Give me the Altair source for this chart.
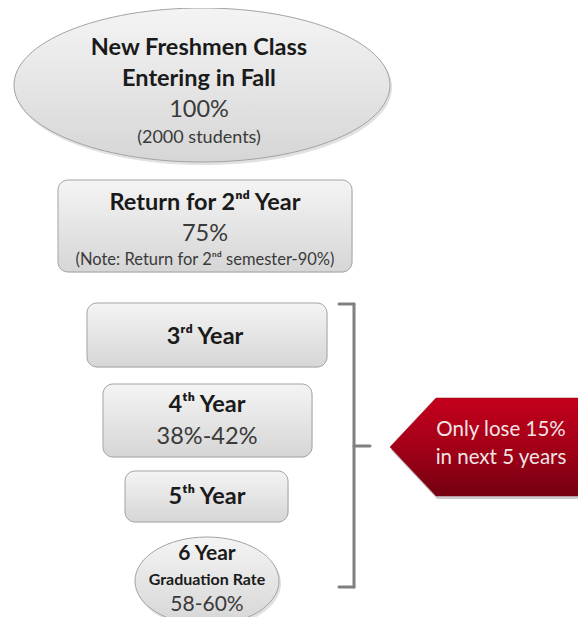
import altair as alt
import pandas as pd

# ---------------- data ----------------
# ellipses (centre, width, height in diagram units = pixels)
ell_names = ["Freshmen", "Graduation"]
ell_cx = [202, 207]
ell_cy = [85, 581]
ell_w = [376, 144]
ell_h = [154, 88]

# rounded boxes
box_names = ["2nd Year", "3rd Year", "4th Year", "5th Year"]
box_x1 = [58, 87, 103, 125]
box_x2 = [352, 327, 312, 288]
box_y1 = [180, 303, 384, 471]
box_y2 = [272, 367, 457, 522]

# bracket segments
br_x1 = [354, 339, 339, 354]
br_x2 = [354, 354, 354, 370]
br_y1 = [304, 304, 587, 446]
br_y2 = [587, 304, 587, 446]

# arrow (pentagon) centre and half-size
arrow_cx = [488]
arrow_cy = [447]
arrow_half = 100

# text
bold_labels = ["New Freshmen Class", "Entering in Fall", "Return for 2ⁿᵈ Year",
               "3ʳᵈ Year", "4ᵗʰ Year", "5ᵗʰ Year", "6 Year", "Graduation Rate"]
bold_x = [199, 199, 205, 205, 207, 207, 207, 207]
bold_y = [48, 79, 203, 337, 405, 497, 554, 580]
bold_size = [23.5, 23.5, 23.5, 23.5, 23.5, 23.5, 21, 16]

reg_labels = ["100%", "(2000 students)", "75%", "(Note: Return for 2ⁿᵈ semester-90%)",
              "38%-42%", "58-60%"]
reg_x = [199, 199, 205, 205, 207, 207]
reg_y = [110, 138, 234, 260, 437, 605]
reg_size = [23.5, 18, 23.5, 16.5, 23.5, 21]

arrow_labels = ["Only lose 15%", "in next 5 years"]
arrow_tx = [501, 501]
arrow_ty = [430, 458]

FONT = "Lato"

# ---------------- helpers ----------------
def ellipse_path(k):
    c = 0.5523
    return (f"M-1,0C-1,{-c*k:.4f},{-c},{-k:.4f},0,{-k:.4f}"
            f"C{c},{-k:.4f},1,{-c*k:.4f},1,0"
            f"C1,{c*k:.4f},{c},{k:.4f},0,{k:.4f}"
            f"C{-c},{k:.4f},-1,{c*k:.4f},-1,0Z")

xs = alt.Scale(domain=[8, 578])
ys = alt.Scale(domain=[8, 617], reverse=True)

gray_grad = alt.Gradient(
    gradient="linear", x1=0, x2=0, y1=0, y2=1,
    stops=[alt.GradientStop(color="#f4f4f4", offset=0),
           alt.GradientStop(color="#d6d6d6", offset=1)])
red_grad = alt.Gradient(
    gradient="linear", x1=0, x2=0, y1=0, y2=1,
    stops=[alt.GradientStop(color="#c4001c", offset=0),
           alt.GradientStop(color="#a30018", offset=0.5),
           alt.GradientStop(color="#740010", offset=1)])

ell_df = pd.DataFrame({
    "name": ell_names, "cx": ell_cx, "cy": ell_cy,
    "shape": [ellipse_path(h / w) for w, h in zip(ell_w, ell_h)],
    "size": [w * w for w in ell_w],
})
box_df = pd.DataFrame({"name": box_names, "x1": box_x1, "x2": box_x2,
                       "y1": box_y1, "y2": box_y2})
br_df = pd.DataFrame({"x1": br_x1, "x2": br_x2, "y1": br_y1, "y2": br_y2})

t = 0.49
tip = -0.98
corner = -0.52
arrow_path = f"M{tip},0L{corner},{-t}L1.05,{-t}L1.05,{t}L{corner},{t}Z"
arrow_df = pd.DataFrame({"cx": arrow_cx, "cy": arrow_cy,
                         "shape": [arrow_path], "size": [(2 * arrow_half) ** 2]})

bold_df = pd.DataFrame({"label": bold_labels, "x": bold_x, "y": bold_y, "size": bold_size})
reg_df = pd.DataFrame({"label": reg_labels, "x": reg_x, "y": reg_y, "size": reg_size})
arr_t_df = pd.DataFrame({"label": arrow_labels, "x": arrow_tx, "y": arrow_ty})

# ---------------- layers ----------------
def ell_layer(fill, stroke, dx=0, dy=0, opacity=1.0):
    return alt.Chart(ell_df).mark_point(
        filled=True, fill=fill, stroke=stroke, strokeWidth=1, opacity=opacity,
        xOffset=dx, yOffset=dy
    ).encode(
        x=alt.X("cx:Q", scale=xs, axis=None),
        y=alt.Y("cy:Q", scale=ys, axis=None),
        shape=alt.Shape("shape:N", scale=None),
        size=alt.Size("size:Q", scale=None),
    )

def box_layer(fill, stroke, dx=0, dy=0, opacity=1.0):
    return alt.Chart(box_df).mark_rect(
        cornerRadius=10, fill=fill, stroke=stroke, strokeWidth=1, opacity=opacity,
        xOffset=dx, yOffset=dy
    ).encode(
        x=alt.X("x1:Q", scale=xs, axis=None), x2="x2:Q",
        y=alt.Y("y1:Q", scale=ys, axis=None), y2="y2:Q",
    )

ell_shadow = ell_layer("#bdbdbd", "#bdbdbd", 1.5, 2.5, 0.45)
box_shadow = box_layer("#bdbdbd", "#bdbdbd", 1.5, 2.5, 0.45)
ells = ell_layer(gray_grad, "#a3a3a3")
boxes = box_layer(gray_grad, "#a3a3a3")

bracket = alt.Chart(br_df).mark_rule(
    color="#808080", strokeWidth=3, strokeCap="round"
).encode(
    x=alt.X("x1:Q", scale=xs, axis=None), x2="x2:Q",
    y=alt.Y("y1:Q", scale=ys, axis=None), y2="y2:Q",
)

arrow_shadow = alt.Chart(arrow_df).mark_point(
    filled=True, fill="#9a9a9a", opacity=0.5, yOffset=3, xOffset=1
).encode(
    x=alt.X("cx:Q", scale=xs, axis=None),
    y=alt.Y("cy:Q", scale=ys, axis=None),
    shape=alt.Shape("shape:N", scale=None),
    size=alt.Size("size:Q", scale=None),
)
arrow = alt.Chart(arrow_df).mark_point(
    filled=True, fill=red_grad, stroke="#8a0a18", strokeWidth=0.5, opacity=1
).encode(
    x=alt.X("cx:Q", scale=xs, axis=None),
    y=alt.Y("cy:Q", scale=ys, axis=None),
    shape=alt.Shape("shape:N", scale=None),
    size=alt.Size("size:Q", scale=None),
)

bold_text = alt.Chart(bold_df).mark_text(
    font=FONT, fontWeight="bold", color="#1a1a1a", baseline="middle", align="center"
).encode(
    x=alt.X("x:Q", scale=xs, axis=None),
    y=alt.Y("y:Q", scale=ys, axis=None),
    text="label:N",
    size=alt.Size("size:Q", scale=None),
)
reg_text = alt.Chart(reg_df).mark_text(
    font=FONT, color="#3a3a3a", baseline="middle", align="center"
).encode(
    x=alt.X("x:Q", scale=xs, axis=None),
    y=alt.Y("y:Q", scale=ys, axis=None),
    text="label:N",
    size=alt.Size("size:Q", scale=None),
)
arrow_text = alt.Chart(arr_t_df).mark_text(
    font=FONT, fontSize=20.5, color="#f3e4e4", baseline="middle", align="center"
).encode(
    x=alt.X("x:Q", scale=xs, axis=None),
    y=alt.Y("y:Q", scale=ys, axis=None),
    text="label:N",
)

chart = alt.layer(
    ell_shadow, box_shadow, ells, boxes, bracket, arrow_shadow, arrow,
    bold_text, reg_text, arrow_text
).properties(
    width=570, height=609, padding=0, autosize="none", background="white"
).configure_view(strokeWidth=0)

chart.save("out.html", embed_options={"renderer": "svg", "actions": False})
